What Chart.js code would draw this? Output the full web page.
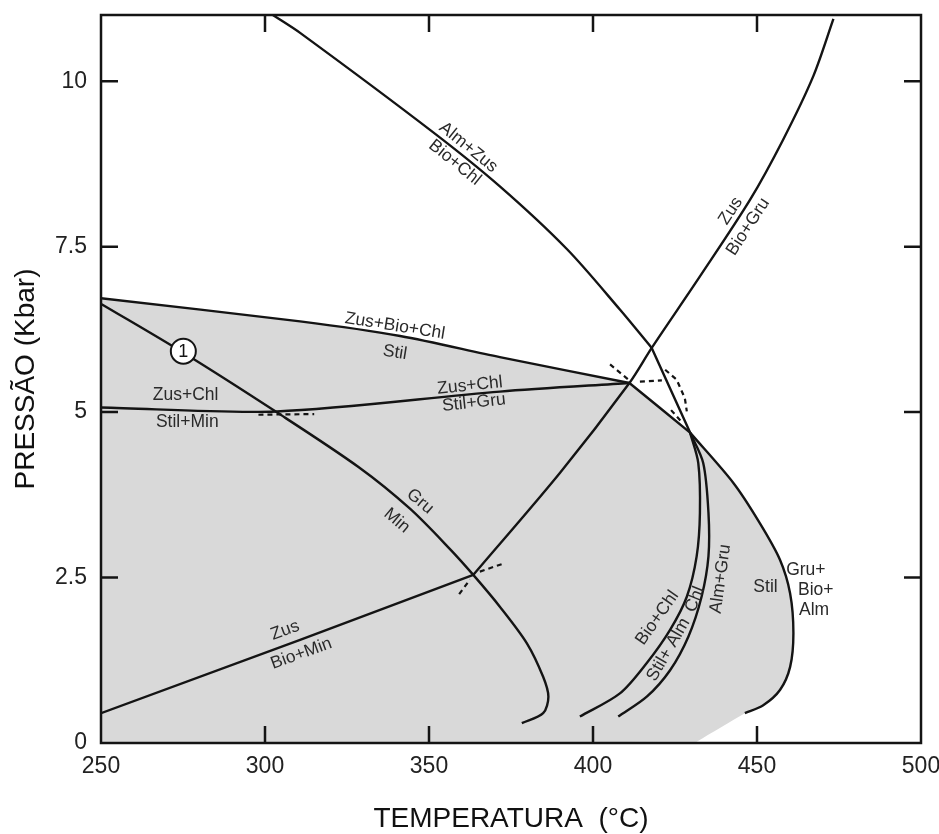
<!DOCTYPE html>
<html>
<head>
<meta charset="utf-8">
<script src="https://cdn.jsdelivr.net/npm/chart.js@4.4.1/dist/chart.umd.min.js"></script>
<style>
  html, body { margin: 0; padding: 0; background: #fff; }
  #wrap { width: 939px; height: 834px; }
</style>
</head>
<body>
<div id="wrap"><canvas id="diagram"></canvas></div>
<script>
// ticks
const xTicks = [250, 300, 350, 400, 450, 500];
const yTicks = [0, 2.5, 5, 7.5, 10];

// Alm+Zus = Bio+Chl (upper part, then the steep piece down to the invariant point)
const almZusT = [302.4, 310.7, 351.2, 371.6, 392.1, 408.2, 417.9];
const almZusP = [11.0, 10.73, 9.23, 8.41, 7.46, 6.55, 5.97];
const almZusLowT = [417.9, 429.6];
const almZusLowP = [5.97, 4.69];

// Zus = Bio+Gru
const bioGruT = [363.5, 389.9, 411.1, 417.9, 432.6, 447.9, 458.0, 467.2, 473.3];
const bioGruP = [2.54, 4.08, 5.44, 5.97, 7.05, 8.21, 9.12, 10.08, 10.94];

// Zus = Bio+Min
const bioMinT = [250, 310.7, 363.5];
const bioMinP = [0.45, 1.56, 2.54];

// Zus+Bio+Chl = Stil
const stilTopT = [250, 310.7, 341.2, 371.6, 411.1];
const stilTopP = [6.72, 6.37, 6.15, 5.83, 5.44];
// link between the two invariant points
const linkT = [411.1, 429.6];
const linkP = [5.44, 4.69];
// Stil = Gru+Bio+Alm
const outerT = [429.6, 442.8, 450.9, 457.0, 460.1, 461.1, 460.1, 457.0, 451.9, 446.3];
const outerP = [4.69, 3.93, 3.32, 2.77, 2.26, 1.66, 1.15, 0.80, 0.57, 0.45];

// Zus+Chl = Stil+Min / Stil+Gru
const zusChlT = [250, 303.6, 371.6, 411.1];
const zusChlP = [5.07, 5.01, 5.31, 5.44];

// (1) Gru = Min
const gruMinT = [250.2, 275, 303.5, 328.5, 344.2, 356.4, 363.5, 371.6, 379.8, 384.8, 386.4, 384.8, 378.3];
const gruMinP = [6.63, 5.9, 5.0, 4.17, 3.54, 2.93, 2.54, 2.06, 1.51, 1.0, 0.70, 0.45, 0.30];

// Bio+Chl = Stil+Alm  and  Chl = Alm+Gru
const chl1T = [429.6, 432.1, 432.6, 431.6, 428.6, 423.5, 416.4, 408.2, 396.0];
const chl1P = [4.69, 4.23, 3.48, 2.82, 2.21, 1.71, 1.21, 0.75, 0.40];
const chl2T = [429.6, 433.6, 435.2, 435.2, 433.1, 429.1, 423.5, 416.4, 407.7];
const chl2P = [4.69, 4.23, 3.48, 2.82, 2.21, 1.61, 1.10, 0.70, 0.40];

// bottom corners of the shaded field
const shadeT = [431.6, 431.6, 250, 250];
const shadeP = [0.02, 0.02, 0, 0];

// metastable extensions (dashed)
const dashT = [[298, 315], [365.5, 373.2], [359.2, 362.5], [405.2, 410.8], [414.3, 421.0], [422.0, 425.5, 428.0, 428.6], [423.8, 427.2]];
const dashP = [[4.96, 4.97], [2.59, 2.72], [2.25, 2.47], [5.72, 5.49], [5.46, 5.48], [5.64, 5.49, 5.21, 5.01], [5.03, 4.84]];

// circled reaction number
const markerT = [275.1];
const markerP = [5.92];

const notes = [
    { text: 'Alm+Zus', t: 362.0, p: 9.00, angle: 39 },
    { text: 'Bio+Chl', t: 357.9, p: 8.77, angle: 39 },
    { text: 'Zus+Bio+Chl', t: 339.6, p: 6.30, angle: 9 },
    { text: 'Stil', t: 339.6, p: 5.90, angle: 9 },
    { text: 'Zus+Chl', t: 275.8, p: 5.26, angle: 0 },
    { text: 'Stil+Min', t: 276.3, p: 4.85, angle: 0 },
    { text: 'Zus+Chl', t: 362.5, p: 5.40, angle: -6 },
    { text: 'Stil+Gru', t: 363.7, p: 5.14, angle: -6 },
    { text: 'Gru', t: 347.3, p: 3.65, angle: 40 },
    { text: 'Min', t: 340.2, p: 3.36, angle: 40 },
    { text: 'Zus', t: 306.1, p: 1.70, angle: -20 },
    { text: 'Bio+Min', t: 311.1, p: 1.35, angle: -20 },
    { text: 'Zus', t: 442.0, p: 8.04, angle: -57 },
    { text: 'Bio+Gru', t: 447.3, p: 7.80, angle: -57 },
    { text: 'Bio+Chl', t: 419.6, p: 1.89, angle: -55 },
    { text: 'Stil+ Alm', t: 423.0, p: 1.41, angle: -60 },
    { text: 'Chl', t: 431.1, p: 2.17, angle: -68 },
    { text: 'Alm+Gru', t: 438.9, p: 2.48, angle: -82 },
    { text: 'Stil', t: 452.6, p: 2.36, angle: 0 },
    { text: 'Gru+', t: 464.9, p: 2.61, angle: 0 },
    { text: 'Bio+', t: 467.9, p: 2.31, angle: 0 },
    { text: 'Alm', t: 467.4, p: 2.00, angle: 0 },
];

const ink = '#141414';
const fontFamily = '"Liberation Sans", Arial, Helvetica, sans-serif';
const bend = 0.3;

const pts = (ts, ps) => ts.map((t, i) => ({ x: t, y: ps[i] }));

const curve = (t, p, extra) => Object.assign({
    data: pts(t, p),
    showLine: true,
    pointRadius: 0,
    borderColor: ink,
    borderWidth: 2.4,
    tension: bend,
    fill: false,
}, extra || {});

const lines = [
    curve(almZusT, almZusP),
    curve(almZusLowT, almZusLowP),
    curve(bioGruT, bioGruP),
    curve(bioMinT, bioMinP, { tension: 0 }),
    curve(stilTopT, stilTopP),
    curve(linkT, linkP),
    curve(outerT, outerP),
    curve(zusChlT, zusChlP),
    curve(gruMinT, gruMinP),
    curve(chl1T, chl1P),
    curve(chl2T, chl2P),
];

const dashes = dashT.map((t, i) => curve(t, dashP[i], { borderDash: [5, 4], borderWidth: 2.2, tension: 0 }));

// the shaded field: same boundary pieces joined end to end
// (shared end points are repeated so each piece keeps its own shape)
const shadeTs = stilTopT.concat(linkT, outerT, [outerT[outerT.length - 1]], shadeT);
const shadePs = stilTopP.concat(linkP, outerP, [outerP[outerP.length - 1]], shadeP);

const shade = {
    data: pts(shadeTs, shadePs),
    showLine: true,
    pointRadius: 0,
    borderWidth: 0,
    borderColor: 'rgba(0,0,0,0)',
    backgroundColor: '#d9d9d9',
    fill: 'shape',
    tension: bend,
};

const marker = {
    data: pts(markerT, markerP),
    showLine: false,
    pointRadius: 12.5,
    pointBackgroundColor: '#fff',
    pointBorderColor: ink,
    pointBorderWidth: 2,
};

// labels, frame and inward ticks
const decor = {
    id: 'decor',
    afterDatasetsDraw(chart) {
        const { ctx, chartArea: a, scales: { x, y } } = chart;
        ctx.save();
        ctx.fillStyle = '#2a2a2a';
        ctx.font = '17.5px ' + fontFamily;
        ctx.textAlign = 'center';
        ctx.textBaseline = 'middle';
        notes.forEach((n) => {
            ctx.save();
            ctx.translate(x.getPixelForValue(n.t), y.getPixelForValue(n.p));
            ctx.rotate(n.angle * Math.PI / 180);
            ctx.fillText(n.text, 0, 0);
            ctx.restore();
        });
        ctx.fillStyle = ink;
        ctx.font = '18px ' + fontFamily;
        ctx.fillText('1', x.getPixelForValue(markerT[0]), y.getPixelForValue(markerP[0]) + 1);

        ctx.strokeStyle = ink;
        ctx.lineWidth = 2.5;
        ctx.strokeRect(a.left, a.top, a.right - a.left, a.bottom - a.top);
        const len = 17;
        ctx.beginPath();
        xTicks.slice(1, -1).forEach((v) => {
            const px = x.getPixelForValue(v);
            ctx.moveTo(px, a.bottom); ctx.lineTo(px, a.bottom - len);
            ctx.moveTo(px, a.top); ctx.lineTo(px, a.top + len);
        });
        yTicks.slice(1).forEach((v) => {
            const py = y.getPixelForValue(v);
            ctx.moveTo(a.left, py); ctx.lineTo(a.left + len, py);
            ctx.moveTo(a.right, py); ctx.lineTo(a.right - len, py);
        });
        ctx.stroke();
        ctx.restore();
    },
};

new Chart('diagram', {
    type: 'scatter',
    data: { datasets: [marker].concat(lines, dashes, [shade]) },
    plugins: [decor],
    options: {
        responsive: true,
        maintainAspectRatio: false,
        animation: false,
        events: [],
        layout: { padding: { top: 15, right: 18, left: 0, bottom: 0 } },
        plugins: { legend: { display: false }, tooltip: { enabled: false } },
        scales: {
            x: {
                type: 'linear',
                min: 250,
                max: 500,
                afterBuildTicks: (s) => { s.ticks = xTicks.map((v) => ({ value: v })); },
                afterFit: (s) => { s.height = 91; s.paddingLeft = 0; s.paddingRight = 0; },
                grid: { display: false, drawTicks: false },
                border: { display: false },
                ticks: {
                    autoSkip: false,
                    maxRotation: 0,
                    padding: 10,
                    color: '#222',
                    font: { size: 23, family: fontFamily },
                },
                title: {
                    display: true,
                    text: 'TEMPERATURA  (°C)',
                    color: '#111',
                    padding: { top: 0, bottom: 1 },
                    font: { size: 28, family: fontFamily, lineHeight: 1 },
                },
            },
            y: {
                type: 'linear',
                min: 0,
                max: 11,
                afterBuildTicks: (s) => { s.ticks = yTicks.map((v) => ({ value: v })); },
                afterFit: (s) => { s.width = 101; s.paddingTop = 0; s.paddingBottom = 0; },
                grid: { display: false, drawTicks: false },
                border: { display: false },
                ticks: {
                    padding: 14,
                    color: '#222',
                    font: { size: 23, family: fontFamily },
                    callback: (v) => String(v),
                },
                title: {
                    display: true,
                    text: 'PRESSÃO (Kbar)',
                    color: '#111',
                    padding: { top: 12, bottom: 0 },
                    font: { size: 28, family: fontFamily, lineHeight: 1 },
                },
            },
        },
    },
});
</script>
</body>
</html>
